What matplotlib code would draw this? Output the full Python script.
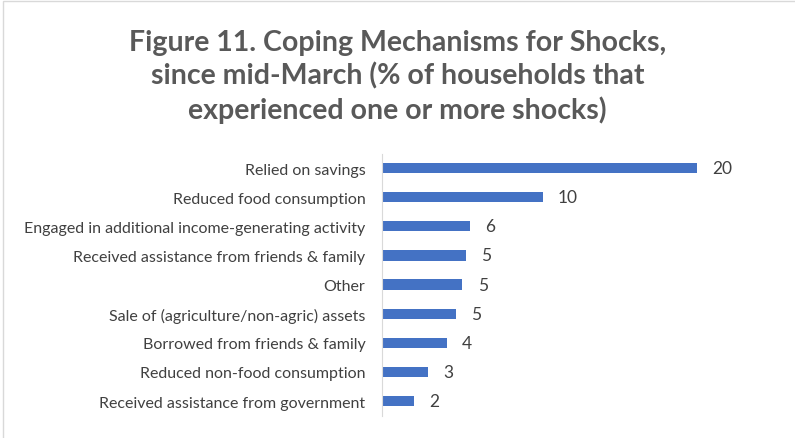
import matplotlib
matplotlib.use('Agg')
import matplotlib.pyplot as plt
from matplotlib.patches import Rectangle

# coping mechanisms, % of households with one or more shocks
mechanisms = ['Relied on savings',
              'Reduced food consumption',
              'Engaged in additional income-generating activity',
              'Received assistance from friends & family',
              'Other',
              'Sale of (agriculture/non-agric) assets',
              'Borrowed from friends & family',
              'Reduced non-food consumption',
              'Received assistance from government']
shares = [20.0, 10.2, 5.6, 5.3, 5.1, 4.7, 4.1, 2.9, 2.0]

title = ('Figure 11. Coping Mechanisms for Shocks,\n'
         'since mid-March (% of households that\n'
         'experienced one or more shocks)')

plt.rcParams['font.family'] = ['Lato', 'DejaVu Sans']

fig = plt.figure(figsize=(7.95, 4.39), dpi=100)
ax = fig.add_axes([0.4805, 0.051, 0.476, 0.597])

# chart border
fig.patches.append(Rectangle((3 / 795, -0.1), 1.2, 1 - 2 / 439 + 0.1,
                             transform=fig.transFigure, fill=False,
                             edgecolor='#d9d9d9', linewidth=1))

y = range(len(mechanisms))
ax.barh(y, shares, height=0.35, color='#4472C4')
for i, v in enumerate(shares):
    ax.annotate('%.0f' % v, (v, i), xytext=(11, 0), textcoords='offset points',
                va='center', ha='left', fontsize=12.5, color='#404040')

ax.set_xlim(0, 24)
ax.set_ylim(len(mechanisms) - 0.5, -0.5)
ax.set_yticks(list(y))
ax.set_yticklabels(mechanisms, fontsize=11.5, color='#404040')
ax.tick_params(axis='y', length=0, pad=12)
ax.set_xticks([])
for s in ['top', 'right', 'bottom']:
    ax.spines[s].set_visible(False)
ax.spines['left'].set_color('#d9d9d9')

fig.text(0.5, 0.825, title, ha='center', va='center', fontsize=20.5,
         fontweight='bold', color='#595959', linespacing=1.3)

fig.savefig('out.png', dpi=100)
